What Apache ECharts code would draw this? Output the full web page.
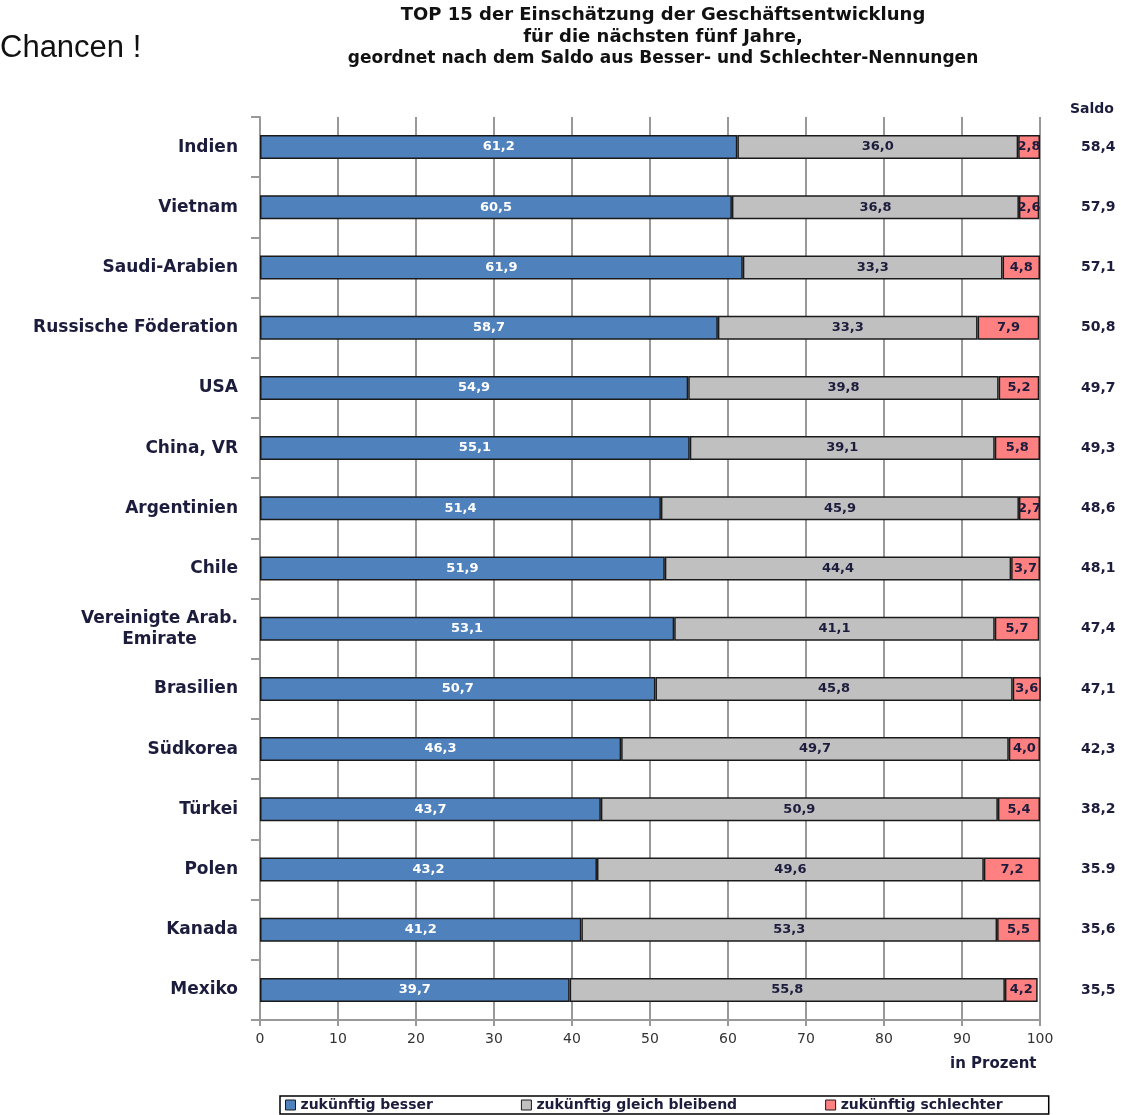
<!DOCTYPE html>
<html>
<head>
<meta charset="utf-8">
<script src="https://cdn.jsdelivr.net/npm/echarts@6/dist/echarts.min.js"></script>
<style>
html,body{margin:0;padding:0;background:#fff;}
#chart{width:1126px;height:1115px;}
</style>
</head>
<body>
<div id="chart"></div>
<script>
var categories = ['Indien','Vietnam','Saudi-Arabien','Russische Föderation','USA','China, VR','Argentinien','Chile','Vereinigte Arab.\nEmirate','Brasilien','Südkorea','Türkei','Polen','Kanada','Mexiko'];
var besser = [61.2,60.5,61.9,58.7,54.9,55.1,51.4,51.9,53.1,50.7,46.3,43.7,43.2,41.2,39.7];
var gleich = [36.0,36.8,33.3,33.3,39.8,39.1,45.9,44.4,41.1,45.8,49.7,50.9,49.6,53.3,55.8];
var schlechter = [2.8,2.6,4.8,7.9,5.2,5.8,2.7,3.7,5.7,3.6,4.0,5.4,7.2,5.5,4.2];
var saldo = ['58,4','57,9','57,1','50,8','49,7','49,3','48,6','48,1','47,4','47,1','42,3','38,2','35.9','35,6','35,5'];
var seriesNames = ['zukünftig besser','zukünftig gleich bleibend','zukünftig schlechter'];
var xTicks = {min:0, max:100, interval:10};

var FONT = 'DejaVu Sans';
var TXT = '#1c1c3c';
var CAT_FONT_SIZE = 17;
function fmt(p){ return p.value.toFixed(1).replace('.', ','); }

// measure widest line of multi-line category labels so lines can be centred within the block
var ctx = document.createElement('canvas').getContext('2d');
ctx.font = 'bold ' + CAT_FONT_SIZE + 'px "' + FONT + '"';
function catFormatter(v){
  if (v.indexOf('\n') < 0) return v;
  var lines = v.split('\n');
  var w = 0;
  lines.forEach(function(l){ w = Math.max(w, ctx.measureText(l).width); });
  catRich.c.width = Math.ceil(w);
  return lines.map(function(l){ return '{c|' + l + '}'; }).join('\n');
}
var catRich = {c: {fontFamily: FONT, fontWeight: 'bold', fontSize: CAT_FONT_SIZE, color: TXT, align: 'center', lineHeight: 21, width: 150}};
catFormatter(categories[8]);

function mkSeries(name, data, color, labelColor){
  return {
    name: name, type: 'bar', stack: 'total', data: data, barWidth: 24,
    itemStyle: {color: color, borderColor: '#1a1a1a', borderWidth: 1.5},
    label: {show: true, position: 'inside', formatter: fmt, color: labelColor,
            fontFamily: FONT, fontWeight: 'bold', fontSize: 13},
    emphasis: {disabled: true}
  };
}
var chart = echarts.init(document.getElementById('chart'));
chart.setOption({
  animation: false,
  backgroundColor: '#fff',
  title: [
    {text: 'TOP 15 der Einschätzung der Geschäftsentwicklung\nfür die nächsten fünf Jahre,', left: 663, top: 4, padding: 0, textAlign: 'center',
     textStyle: {fontFamily: FONT, fontWeight: 'bold', fontSize: 18, lineHeight: 22, color: '#111'}},
    {text: 'geordnet nach dem Saldo aus Besser- und Schlechter-Nennungen', left: 663, top: 50, padding: 0, textAlign: 'center',
     textStyle: {fontFamily: FONT, fontWeight: 'bold', fontSize: 17, color: '#111'}},
    {text: 'Chancen !', left: 0, top: 33, padding: 0, textStyle: {fontFamily: 'Liberation Sans', fontWeight: 'normal', fontSize: 31, color: '#111'}},
    {text: 'Saldo', left: 1070, top: 102, padding: 0, textStyle: {fontFamily: FONT, fontWeight: 'bold', fontSize: 14, color: TXT}},
    {text: 'in Prozent', left: 950, top: 1057, padding: 0, textStyle: {fontFamily: FONT, fontWeight: 'bold', fontSize: 15, color: TXT}}
  ],
  legend: {
    data: seriesNames, left: 280, top: 1096, itemWidth: 10, itemHeight: 10, itemGap: 88, icon: 'rect',
    borderColor: '#000', borderWidth: 1.5, padding: [2, 46, 2, 5],
    textStyle: {fontFamily: FONT, fontWeight: 'bold', fontSize: 14, color: TXT},
    itemStyle: {borderColor: '#1a1a1a', borderWidth: 1}
  },
  grid: {left: 260, right: 86, top: 117, bottom: 95, containLabel: false},
  xAxis: {
    type: 'value', min: xTicks.min, max: xTicks.max, interval: xTicks.interval,
    axisLine: {show: true, lineStyle: {color: '#999', width: 2}},
    axisTick: {show: true, length: 6, lineStyle: {color: '#999', width: 2}},
    splitLine: {show: true, lineStyle: {color: '#999', width: 2}},
    axisLabel: {fontFamily: FONT, fontSize: 14, color: '#333', margin: 12}
  },
  yAxis: [{
    type: 'category', data: categories, inverse: true,
    axisLine: {show: true, lineStyle: {color: '#999', width: 2}},
    axisTick: {show: true, length: 9, lineStyle: {color: '#999', width: 2}},
    axisLabel: {fontFamily: FONT, fontWeight: 'bold', fontSize: CAT_FONT_SIZE, color: TXT, margin: 22, lineHeight: 21,
                formatter: catFormatter, rich: catRich}
  }, {
    type: 'category', data: saldo, inverse: true, position: 'right',
    axisLine: {show: false}, axisTick: {show: false}, splitLine: {show: false},
    axisLabel: {fontFamily: FONT, fontWeight: 'bold', fontSize: 14, color: TXT, margin: 41, align: 'left'}
  }],
  series: [
    mkSeries(seriesNames[0], besser, '#4F81BD', '#ffffff'),
    mkSeries(seriesNames[1], gleich, '#C0C0C0', TXT),
    mkSeries(seriesNames[2], schlechter, '#FF8080', TXT)
  ]
});
</script>
</body>
</html>
